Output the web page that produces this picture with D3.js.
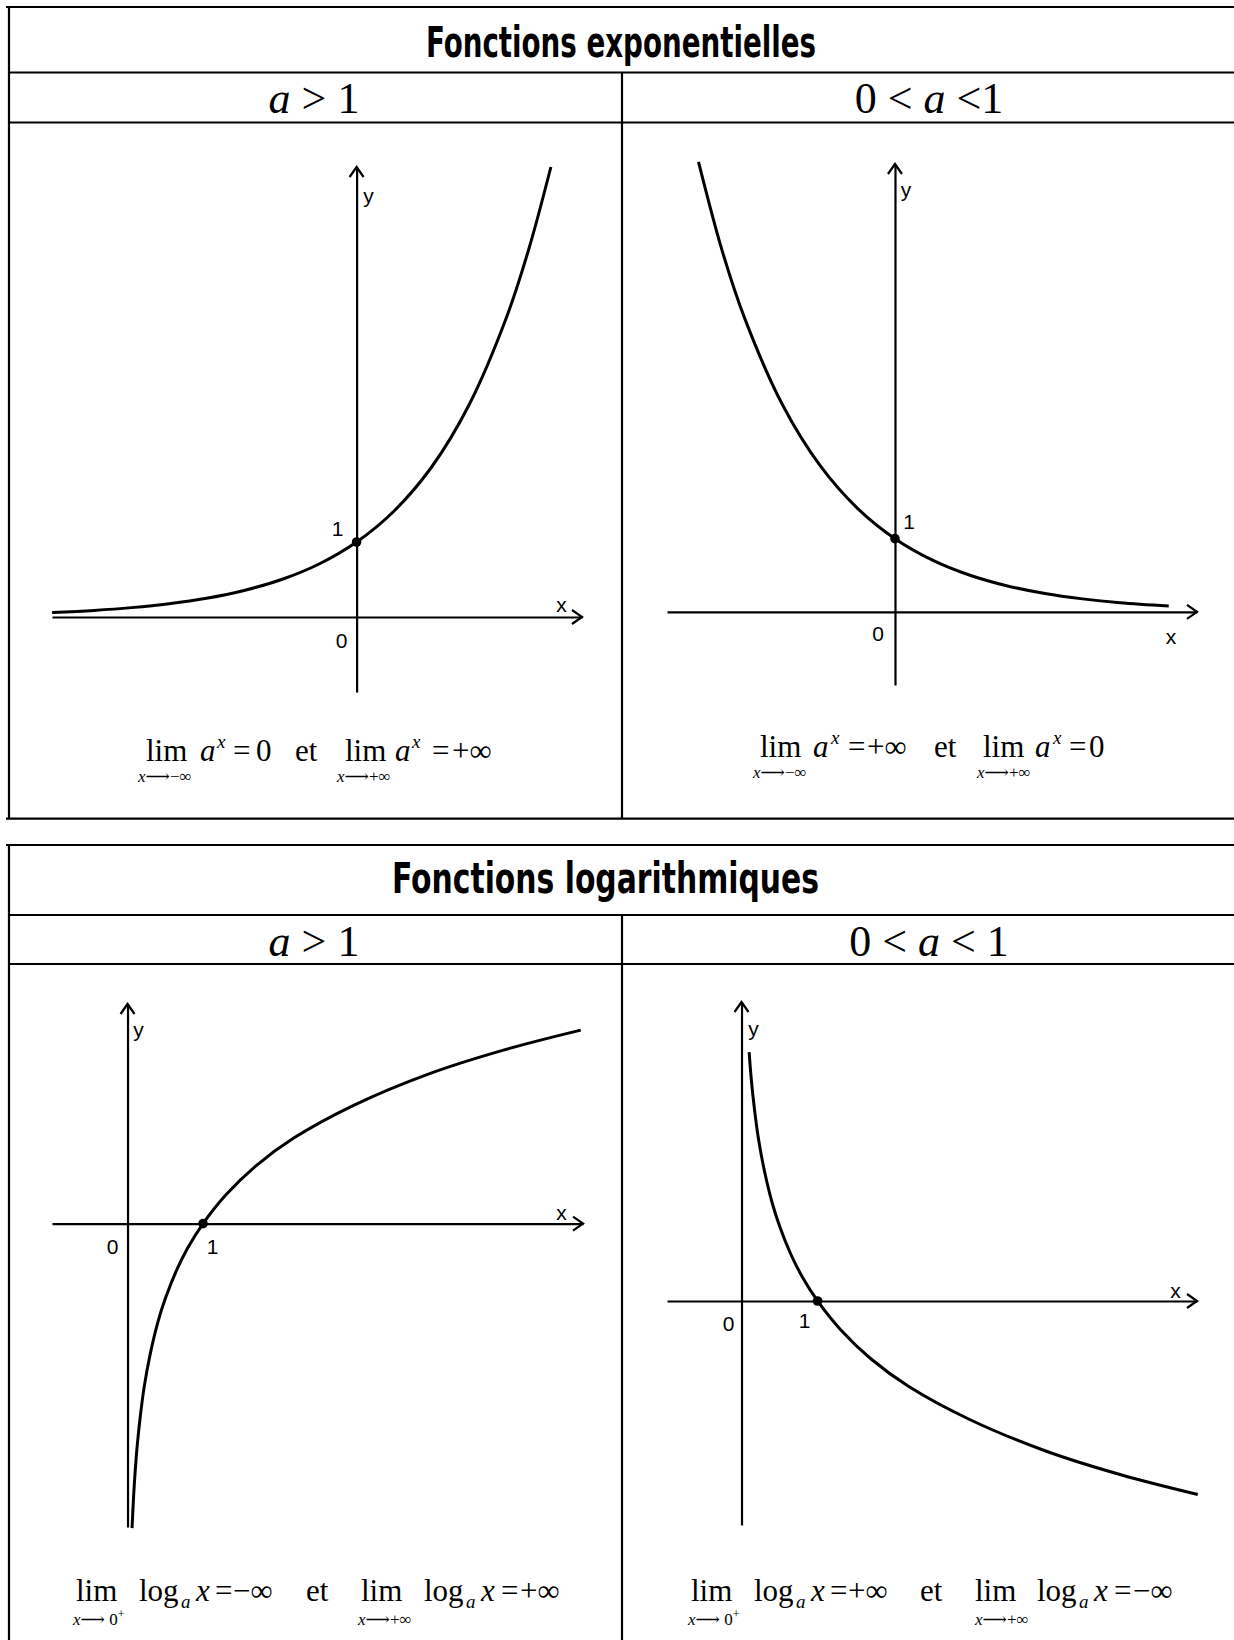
<!DOCTYPE html>
<html>
<head>
<meta charset="utf-8">
<script src="https://cdn.jsdelivr.net/npm/d3@7"></script>
<style>
  body { margin: 0; background: #fff; }
  svg { display: block; }
</style>
</head>
<body>
<svg id="chart"></svg>
<script>
// ---- values (math units) ----
const expUpX   = [-4.06, -3.5, -3, -2.5, -2, -1.5, -1, -0.5, 0, 0.5, 1, 1.5, 2, 2.3, 2.59];
const expUpY   = [0.06, 0.088, 0.125, 0.177, 0.25, 0.354, 0.5, 0.707, 1, 1.414, 2, 2.83, 4, 4.92, 6.0];
const expDownX = [-2.62, -2.3, -2, -1.5, -1, -0.5, 0, 0.5, 1, 1.5, 2, 2.5, 3, 3.65];
const expDownY = [6.15, 4.92, 4, 2.83, 2, 1.414, 1, 0.707, 0.5, 0.354, 0.25, 0.177, 0.125, 0.08];
const logUpX   = [0.06, 0.08, 0.1, 0.13, 0.17, 0.22, 0.3, 0.4, 0.5, 0.65, 0.8, 1, 1.3, 1.7, 2.2, 3, 4, 5, 6];
const logUpY   = [-4.06, -3.64, -3.32, -2.94, -2.56, -2.18, -1.74, -1.32, -1, -0.62, -0.32, 0, 0.38, 0.77, 1.14, 1.58, 2, 2.32, 2.58];
const logDownX = [0.1, 0.13, 0.17, 0.22, 0.3, 0.4, 0.5, 0.65, 0.8, 1, 1.3, 1.7, 2.2, 3, 4, 5, 6];
const logDownY = [3.32, 2.94, 2.56, 2.18, 1.74, 1.32, 1, 0.62, 0.32, 0, -0.38, -0.77, -1.14, -1.58, -2, -2.32, -2.58];

// marked points on each curve
const expMark = [0, 1];
const logMark = [1, 0];

// axis labels
const axisLabels = ["y", "1", "0", "x"];

// headings
const titles = ["Fonctions exponentielles", "Fonctions logarithmiques"];
const cases = [["a > 1", "0 < a <1"], ["a > 1", "0 < a < 1"]];

const W = 1234, H = 1640;
const svg = d3.select("#chart").attr("width", W).attr("height", H);
const serif = "'Liberation Serif', 'DejaVu Serif', 'Times New Roman', serif";

// ---- tables ----
const tables = [
  { top: 7, row1: 72.5, row2: 122.5, bottom: 818.7, titleY: 57, titleX: [426, 816], caseY: 113 },
  { top: 845, row1: 915, row2: 964, bottom: null, titleY: 893, titleX: [392, 819], caseY: 956 }
];
const leftX = 9, midX = 622;

tables.forEach((t, i) => {
  const g = svg.append("g").attr("stroke", "#000").attr("stroke-width", 2.2);
  g.append("line").attr("x1", 6).attr("x2", W).attr("y1", t.top).attr("y2", t.top);
  g.append("line").attr("x1", leftX).attr("x2", W).attr("y1", t.row1).attr("y2", t.row1);
  g.append("line").attr("x1", leftX).attr("x2", W).attr("y1", t.row2).attr("y2", t.row2);
  const bot = t.bottom == null ? H : t.bottom;
  if (t.bottom != null) g.append("line").attr("x1", 6).attr("x2", W).attr("y1", bot).attr("y2", bot);
  g.append("line").attr("x1", leftX).attr("x2", leftX).attr("y1", t.top).attr("y2", bot);
  g.append("line").attr("x1", midX).attr("x2", midX).attr("y1", t.row1).attr("y2", bot);

  svg.append("text")
    .attr("x", t.titleX[0]).attr("y", t.titleY)
    .attr("textLength", t.titleX[1] - t.titleX[0])
    .attr("lengthAdjust", "spacingAndGlyphs")
    .style("font-family", "'Liberation Sans Narrow', 'DejaVu Sans Condensed', 'Liberation Sans', sans-serif")
    .style("font-weight", "bold")
    .style("font-size", "42px")
    .text(titles[i]);

  [[314, cases[i][0]], [929, cases[i][1]]].forEach(([cx, s]) => {
    const txt = svg.append("text")
      .attr("x", cx).attr("y", t.caseY)
      .attr("text-anchor", "middle")
      .style("font-family", serif)
      .style("font-size", "44px");
    s.split(/(a)/).forEach(part => {
      if (!part) return;
      txt.append("tspan").style("font-style", part === "a" ? "italic" : "normal").text(part);
    });
  });
});

// ---- plots ----
const panels = [
  { xs: expUpX, ys: expUpY, mark: expMark, xd: [-4.061, 3.005], xr: [52, 582], yd: [-1, 6], yr: [692, 167],
    lab: [[12, -422], [-19, -89], [-15, 23], [205, -13]] },
  { xs: expDownX, ys: expDownY, mark: expMark, xd: [-3.04, 4.027], xr: [667, 1197], yd: [-1, 6.12], yr: [685, 164],
    lab: [[11, -422], [14, -90], [-17, 22], [276, 25]] },
  { xs: logUpX, ys: logUpY, mark: logMark, xd: [-1.0, 6.03], xr: [52, 583], yd: [-4.045, 2.928], yr: [1527, 1004],
    lab: [[11, -194], [85, 23], [-15, 23], [434, -11]] },
  { xs: logDownX, ys: logDownY, mark: logMark, xd: [-0.98, 5.99], xr: [667, 1197], yd: [-2.987, 3.987], yr: [1525, 1002],
    lab: [[12, -273], [63, 19], [-13, 22], [434, -11]] }
];

panels.forEach(p => {
  const x = d3.scaleLinear().domain(p.xd).range(p.xr);
  const y = d3.scaleLinear().domain(p.yd).range(p.yr);
  const ox = x(0), oy = y(0);
  const g = svg.append("g");

  const ax = g.append("g").attr("transform", "translate(0," + oy + ")")
    .call(d3.axisBottom(x).tickValues([]).tickSizeOuter(0));
  const ay = g.append("g").attr("transform", "translate(" + ox + ",0)")
    .call(d3.axisLeft(y).tickValues([]).tickSizeOuter(0));
  [ax, ay].forEach(a => a.select(".domain").attr("stroke", "#000").attr("stroke-width", 2.2));

  // open arrow heads
  const xe = x(p.xd[1]), ye = y(p.yd[1]);
  g.append("path")
    .attr("d", `M${xe - 10},${oy - 7}L${xe},${oy}L${xe - 10},${oy + 7}`)
    .attr("fill", "none").attr("stroke", "#000").attr("stroke-width", 2.2);
  g.append("path")
    .attr("d", `M${ox - 7},${ye + 10}L${ox},${ye}L${ox + 7},${ye + 10}`)
    .attr("fill", "none").attr("stroke", "#000").attr("stroke-width", 2.2);

  const pts = p.xs.map((v, i) => [v, p.ys[i]]);
  const line = d3.line()
    .x(d => x(d[0]))
    .y(d => y(d[1]))
    .curve(d3.curveCatmullRom.alpha(0.5));
  g.append("path").datum(pts)
    .attr("d", line)
    .attr("fill", "none")
    .attr("stroke", "#000")
    .attr("stroke-width", 3)
    .attr("stroke-linecap", "butt");

  g.append("circle")
    .attr("cx", x(p.mark[0])).attr("cy", y(p.mark[1])).attr("r", 4.8)
    .attr("fill", "#000");

  axisLabels.forEach((s, i) => {
    g.append("text")
      .attr("x", ox + p.lab[i][0]).attr("y", oy + p.lab[i][1])
      .attr("dy", "0.36em")
      .attr("text-anchor", "middle")
      .style("font-family", "'Liberation Sans', Arial, sans-serif")
      .style("font-size", "21px")
      .text(s);
  });
});

// ---- limits ----
// kinds: r = roman, i = italic, sup = italic exponent, sub = italic index
const limits = [
  { y: 761, sy: 782, parts: [["lim", 146, "r"], ["a", 200, "i"], ["x", 217, "sup"], ["=", 233, "r"], ["0", 256, "r"],
      ["et", 295, "r"], ["lim", 345, "r"], ["a", 395, "i"], ["x", 412, "sup"], ["=", 432, "r"], ["+∞", 452, "r"]],
    subs: [["x⟶−∞", 138], ["x⟶+∞", 337]] },
  { y: 757, sy: 778, parts: [["lim", 760, "r"], ["a", 813, "i"], ["x", 831, "sup"], ["=", 848, "r"], ["+∞", 867, "r"],
      ["et", 934, "r"], ["lim", 983, "r"], ["a", 1035, "i"], ["x", 1053, "sup"], ["=", 1069, "r"], ["0", 1089, "r"]],
    subs: [["x⟶−∞", 753], ["x⟶+∞", 977]] },
  { y: 1601, sy: 1625, parts: [["lim", 76, "r"], ["log", 139, "r"], ["a", 181, "sub"], ["x", 196, "i"], ["=", 215, "r"],
      ["−∞", 233, "r"], ["et", 306, "r"], ["lim", 361, "r"], ["log", 424, "r"], ["a", 466, "sub"], ["x", 481, "i"],
      ["=", 501, "r"], ["+∞", 520, "r"]],
    subs: [["x⟶ 0", 73, "+"], ["x⟶+∞", 358]] },
  { y: 1601, sy: 1625, parts: [["lim", 691, "r"], ["log", 754, "r"], ["a", 796, "sub"], ["x", 811, "i"], ["=", 830, "r"],
      ["+∞", 848, "r"], ["et", 920, "r"], ["lim", 975, "r"], ["log", 1037, "r"], ["a", 1079, "sub"], ["x", 1094, "i"],
      ["=", 1114, "r"], ["−∞", 1133, "r"]],
    subs: [["x⟶ 0", 688, "+"], ["x⟶+∞", 975]] }
];

limits.forEach(L => {
  L.parts.forEach(([s, px, kind]) => {
    const big = kind === "r" || kind === "i";
    svg.append("text")
      .attr("x", px)
      .attr("y", L.y + (kind === "sup" ? -13 : kind === "sub" ? 7 : 0))
      .style("font-family", serif)
      .style("font-size", big ? "31px" : "19px")
      .style("font-style", kind === "r" ? "normal" : "italic")
      .text(s);
  });
  L.subs.forEach(([s, px, sup]) => {
    const t = svg.append("text")
      .attr("x", px).attr("y", L.sy)
      .style("font-family", serif)
      .style("font-size", "17px");
    t.append("tspan").style("font-style", "italic").text(s[0]);
    t.append("tspan").text(s.slice(1));
    if (sup) t.append("tspan").attr("dy", -7).style("font-size", "12px").text(sup);
  });
});
</script>
</body>
</html>
